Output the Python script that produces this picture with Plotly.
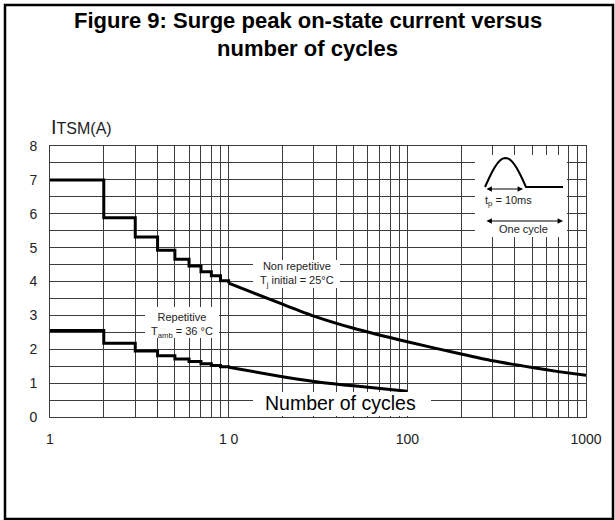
import math
import plotly.graph_objects as go

# ---------------- data ----------------
step_cycles = [1, 2, 3, 4, 5, 6, 7, 8, 9, 10]
nonrep_steps = [7.0, 5.88, 5.31, 4.92, 4.66, 4.46, 4.29, 4.17, 4.02, 3.95]
rep_steps = [2.55, 2.18, 1.95, 1.81, 1.71, 1.64, 1.57, 1.52, 1.48, 1.47]

nonrep_curve_cycles = [10, 20, 30, 50, 100, 200, 300, 500, 700, 1000]
nonrep_curve = [3.95, 3.33, 2.98, 2.62, 2.22, 1.86, 1.66, 1.46, 1.34, 1.23]

rep_curve_cycles = [10, 20, 30, 50, 100]
rep_curve = [1.47, 1.19, 1.05, 0.92, 0.76]

x_tick_vals = [m * 10 ** d for d in range(3) for m in range(1, 10)] + [1000]
x_tick_text = {1: "1", 10: "1 0", 100: "100", 1000: "1000"}
y_tick_vals = [i * 0.5 for i in range(17)]

# ---------------- geometry helpers (pixel -> paper) ----------------
W, H = 615, 520
L, R, T, B = 50, 586, 146, 417
PW, PH = R - L, B - T


def px(x):
    return (x - L) / PW


def py(y):
    return 1 - (y - T) / PH


FONT = "Liberation Sans, Arial, Helvetica, sans-serif"
INK = "#222222"
GRID = "#3c3c3c"

fig = go.Figure()
line_style = dict(color="black", width=3)
fig.add_trace(go.Scatter(x=step_cycles, y=nonrep_steps, mode="lines",
                         line=dict(shape="hv", **line_style), showlegend=False))
fig.add_trace(go.Scatter(x=nonrep_curve_cycles, y=nonrep_curve, mode="lines",
                         line=dict(shape="spline", smoothing=0.6, **line_style), showlegend=False))
fig.add_trace(go.Scatter(x=step_cycles, y=rep_steps, mode="lines",
                         line=dict(shape="hv", **line_style), showlegend=False))
fig.add_trace(go.Scatter(x=rep_curve_cycles, y=rep_curve, mode="lines",
                         line=dict(shape="spline", smoothing=0.6, **line_style), showlegend=False))

shapes = []
# outer frame
shapes.append(dict(type="rect", xref="paper", yref="paper", x0=px(5), x1=px(613),
                   y0=py(519), y1=py(5), line=dict(color="black", width=2.5), layer="above"))
# white label boxes
for (x0, x1, y0, y1) in [(253, 340, 260, 288), (145, 219, 307, 338),
                         (253, 431, 392, 416), (475, 567, 155, 237)]:
    shapes.append(dict(type="rect", xref="paper", yref="paper", x0=px(x0), x1=px(x1),
                       y0=py(y1), y1=py(y0), fillcolor="white", line=dict(width=0),
                       layer="above"))
# inset waveform (half sine then flat)
wx0, wx1, wx2, wbase, wamp = 485, 526, 563, 187, 29
pts = []
for i in range(31):
    t = i / 30
    pts.append((wx0 + t * (wx1 - wx0), wbase - wamp * math.sin(math.pi * t)))
pts.append((wx2, wbase))
path = "M " + " L ".join(f"{px(a):.5f},{py(b):.5f}" for a, b in pts)
shapes.append(dict(type="path", xref="paper", yref="paper", path=path,
                   line=dict(color="black", width=2), layer="above"))

annotations = []
# title
annotations.append(dict(text="<b>Figure 9: Surge peak on-state current versus</b>",
                        x=px(307.5), y=py(20), xref="paper", yref="paper", showarrow=False,
                        xanchor="center", yanchor="middle",
                        font=dict(family=FONT, size=22, color="black")))
annotations.append(dict(text="<b>number of cycles</b>",
                        x=px(307.5), y=py(48), xref="paper", yref="paper", showarrow=False,
                        xanchor="center", yanchor="middle",
                        font=dict(family=FONT, size=22, color="black")))
# y axis title
annotations.append(dict(text="<span style='font-size:20px'>I</span>TSM(A)",
                        x=px(49), y=py(127), xref="paper", yref="paper", showarrow=False,
                        xanchor="left", yanchor="middle",
                        font=dict(family=FONT, size=16, color=INK)))
# curve labels
annotations.append(dict(text="Non repetitive<br>T<sub>j</sub> initial = 25°C",
                        x=px(297), y=py(274), xref="paper", yref="paper", showarrow=False,
                        xanchor="center", yanchor="middle", align="center",
                        font=dict(family=FONT, size=11, color=INK)))
annotations.append(dict(text="Repetitive<br>T<sub>amb</sub> = 36 °C",
                        x=px(182), y=py(325), xref="paper", yref="paper", showarrow=False,
                        xanchor="center", yanchor="middle", align="center",
                        font=dict(family=FONT, size=11, color=INK)))
annotations.append(dict(text="Number of cycles",
                        x=px(340), y=py(403), xref="paper", yref="paper", showarrow=False,
                        xanchor="center", yanchor="middle",
                        font=dict(family=FONT, size=19.5, color="black")))
# inset texts
annotations.append(dict(text="t<sub>p</sub> = 10ms",
                        x=px(508.5), y=py(201), xref="paper", yref="paper", showarrow=False,
                        xanchor="center", yanchor="middle",
                        font=dict(family=FONT, size=11, color=INK)))
annotations.append(dict(text="One cycle",
                        x=px(523), y=py(229), xref="paper", yref="paper", showarrow=False,
                        xanchor="center", yanchor="middle",
                        font=dict(family=FONT, size=11, color=INK)))
# inset arrows
for (xa, xb, ya) in [(485, 523, 189), (485, 563, 221)]:
    annotations.append(dict(text="", x=px(xb), y=py(ya), xref="paper", yref="paper",
                            showarrow=True, ax=xa - xb, ay=0, axref="pixel", ayref="pixel",
                            arrowside="end+start", arrowhead=2, arrowsize=0.9,
                            arrowwidth=1.2, arrowcolor="black", standoff=0, startstandoff=0))

fig.update_layout(
    width=W, height=H,
    margin=dict(l=L, r=W - R, t=T, b=H - B, pad=0),
    paper_bgcolor="white", plot_bgcolor="white",
    font=dict(family=FONT, size=14, color=INK),
    shapes=shapes, annotations=annotations,
    showlegend=False,
)
fig.update_xaxes(type="log", range=[0, 3],
                 tickvals=x_tick_vals,
                 ticktext=[x_tick_text.get(v, "") for v in x_tick_vals],
                 showgrid=True, gridcolor=GRID, gridwidth=1,
                 showline=True, mirror=True, linecolor=GRID, linewidth=1,
                 zeroline=False, ticks="", ticklabelstandoff=9,
                 tickfont=dict(family=FONT, size=14, color=INK))
fig.update_yaxes(range=[0, 8],
                 tickvals=y_tick_vals,
                 ticktext=[str(int(v)) if v == int(v) else "" for v in y_tick_vals],
                 showgrid=True, gridcolor=GRID, gridwidth=1,
                 showline=True, mirror=True, linecolor=GRID, linewidth=1,
                 zeroline=False, ticks="", ticklabelstandoff=9,
                 tickfont=dict(family=FONT, size=14, color=INK))

fig.write_html("out.html", config={"displayModeBar": False},
               post_script="document.body.style.margin='0';")
